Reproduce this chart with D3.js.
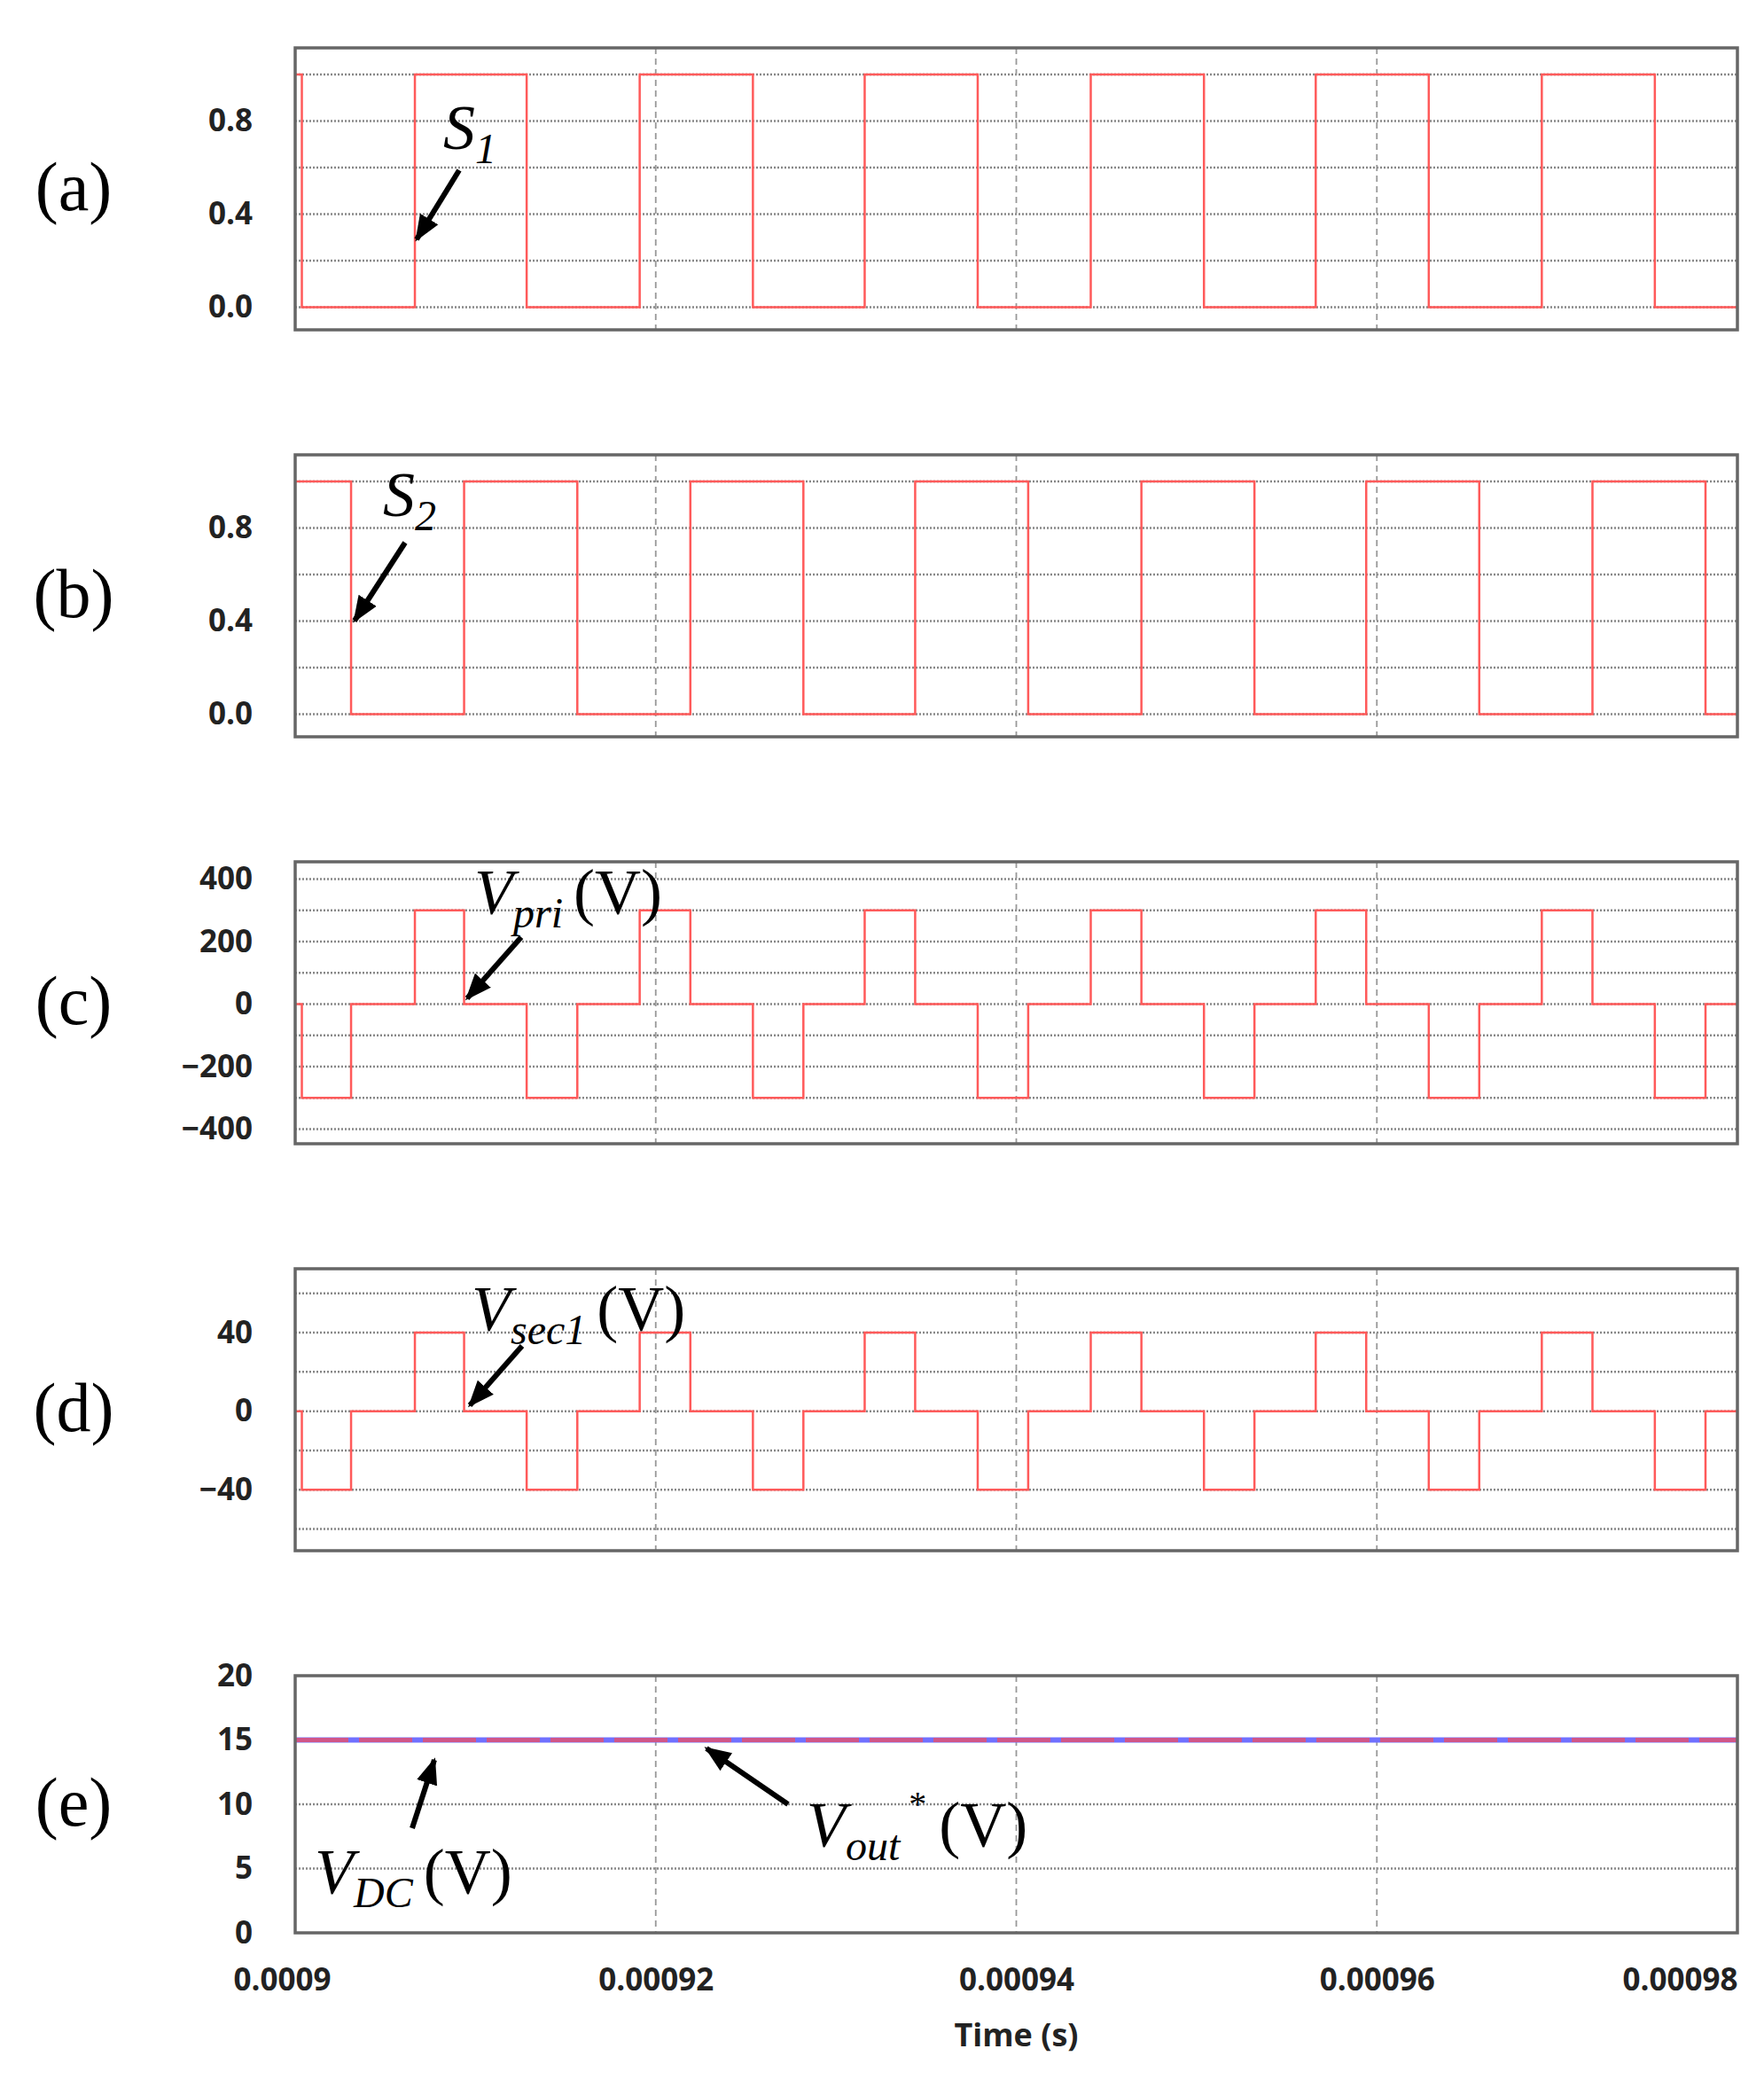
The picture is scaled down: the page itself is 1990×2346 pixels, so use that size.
<!DOCTYPE html><html><head><meta charset="utf-8">
<script src="https://cdn.jsdelivr.net/npm/d3@7"></script>
<style>body{margin:0;background:#fff}</style></head><body>
<svg id="c" width="1990" height="2346"></svg>
<script>
const s1Times=[0.0009,0.00090037,0.00090664,0.00091284,0.00091911,0.00092539,0.00093159,0.00093786,0.00094413,0.00095041,0.00095661,0.00096288,0.00096915,0.00097542,0.00098];
const s1Vals =[1,0,1,0,1,0,1,0,1,0,1,0,1,0,0];
const s2Times=[0.0009,0.0009031,0.00090937,0.00091565,0.00092192,0.00092819,0.00093439,0.00094066,0.00094694,0.00095321,0.00095941,0.00096568,0.00097196,0.00097823,0.00098];
const s2Vals =[1,0,1,0,1,0,1,0,1,0,1,0,1,0,0];
const vTimes=[0.0009,0.00090037,0.0009031,0.00090664,0.00090937,0.00091284,0.00091565,0.00091911,0.00092192,0.00092539,0.00092819,0.00093159,0.00093439,0.00093786,0.00094066,0.00094413,0.00094694,0.00095041,0.00095321,0.00095661,0.00095941,0.00096288,0.00096568,0.00096915,0.00097196,0.00097542,0.00097823,0.00098];
const vpriVals=[0,-300,0,300,0,-300,0,300,0,-300,0,300,0,-300,0,300,0,-300,0,300,0,-300,0,300,0,-300,0,0];
const vsecVals=[0,-40,0,40,0,-40,0,40,0,-40,0,40,0,-40,0,40,0,-40,0,40,0,-40,0,40,0,-40,0,0];
const dcTimes=[0.0009,0.00098]; const vdcVals=[15,15]; const voutVals=[15,15];
const xTicks=[0.0009,0.00092,0.00094,0.00096,0.00098];
const xTickLabels=["0.0009","0.00092","0.00094","0.00096","0.00098"];

const svg=d3.select("#c");
const L=333,R=1960;
const x=d3.scaleLinear().domain([0.0009,0.00098]).range([L,R]);
const panels=[
 {lab:"(a)",top:54,bot:372,dom:[-0.097,1.114],ticks:[0,0.4,0.8],grid:[0,0.2,0.4,0.6,0.8,1.0],series:[[s1Times,s1Vals,"#ff5a5a"]]},
 {lab:"(b)",top:513,bot:831,dom:[-0.097,1.114],ticks:[0,0.4,0.8],grid:[0,0.2,0.4,0.6,0.8,1.0],series:[[s2Times,s2Vals,"#ff5a5a"]]},
 {lab:"(c)",top:972,bot:1290,dom:[-447,455],ticks:[-400,-200,0,200,400],grid:[-400,-300,-200,-100,0,100,200,300,400],series:[[vTimes,vpriVals,"#ff5a5a"]]},
 {lab:"(d)",top:1431,bot:1749,dom:[-71,72.5],ticks:[-40,0,40],grid:[-60,-40,-20,0,20,40,60],series:[[vTimes,vsecVals,"#ff5a5a"]]},
 {lab:"(e)",top:1890,bot:2180,dom:[0,20],ticks:[0,5,10,15,20],grid:[5,10,15],series:[[dcTimes,vdcVals,"#7070ff"],[dcTimes,voutVals,"#e8506a",true]]}
];
panels.forEach(p=>{
 const y=d3.scaleLinear().domain(p.dom).range([p.bot,p.top]);
 const g=svg.append("g");
 g.selectAll(".hg").data(p.grid).join("line").attr("x1",L).attr("x2",R).attr("y1",d=>y(d)).attr("y2",d=>y(d))
  .attr("stroke","#888").attr("stroke-width",2.5).attr("stroke-dasharray","2,2");
 g.selectAll(".vg").data(xTicks.slice(1,4)).join("line").attr("x1",d=>x(d)).attr("x2",d=>x(d)).attr("y1",p.top).attr("y2",p.bot)
  .attr("stroke","#999").attr("stroke-width",1.8).attr("stroke-dasharray","7,5");
 const line=d3.line().x(d=>x(d[0])).y(d=>y(d[1])).curve(d3.curveStepAfter);
 p.series.forEach(([t,v,c,dash])=>{
  const pts=t.map((tt,i)=>[tt,v[i]]);
  g.append("path").datum(pts).attr("d",line).attr("fill","none").attr("stroke",c)
   .attr("stroke-width",dash?5:(p.lab==="(e)"?6:2.5)).attr("stroke-dasharray",dash?"60,12":null).attr("opacity",dash?0.8:1);
 });
 g.append("rect").attr("x",L).attr("y",p.top).attr("width",R-L).attr("height",p.bot-p.top)
  .attr("fill","none").attr("stroke","#666").attr("stroke-width",3.5);
 const ax=d3.axisLeft(y).tickValues(p.ticks).tickSize(0).tickPadding(48);
 const a=g.append("g").attr("transform",`translate(${L},0)`).call(ax);
 a.select(".domain").remove();
 a.selectAll("text").attr("font-family","Open Sans, sans-serif").attr("font-weight","bold").attr("font-size",35).attr("fill","#222");
 svg.append("text").attr("x",83).attr("y",(p.top+p.bot)/2+24).attr("text-anchor","middle")
  .attr("font-family","Liberation Serif, serif").attr("font-size",78).text(p.lab);
});
const xa=svg.append("g").attr("transform","translate(0,2180)").call(d3.axisBottom(x).tickValues(xTicks).tickFormat((d,i)=>xTickLabels[i]).tickSize(0).tickPadding(40));
xa.select(".domain").remove();
xa.selectAll("text").attr("font-family","Open Sans, sans-serif").attr("font-weight","bold").attr("font-size",35).attr("fill","#222");
xa.selectAll("text").filter((d,i)=>i===0).attr("text-anchor","start").attr("dx",-70);
xa.selectAll("text").filter((d,i)=>i===4).attr("text-anchor","end");
svg.append("text").attr("x",x(0.00094)).attr("y",2308).attr("text-anchor","middle").attr("font-family","Open Sans, sans-serif")
 .attr("font-weight","bold").attr("font-size",36).attr("fill","#222").text("Time (s)");
const defs=svg.append("defs");
defs.append("marker").attr("id","ah").attr("viewBox","0 0 10 10").attr("refX",9).attr("refY",5).attr("markerWidth",5).attr("markerHeight",5).attr("orient","auto")
 .append("path").attr("d","M0,1 L10,5 L0,9 Z").attr("fill","#000");
function arrow(x1,y1,x2,y2){svg.append("line").attr("x1",x1).attr("y1",y1).attr("x2",x2).attr("y2",y2).attr("stroke","#000").attr("stroke-width",6).attr("marker-end","url(#ah)");}
function label(px,py,main,sub,rest,sup){
 const t=svg.append("text").attr("x",px).attr("y",py).attr("font-family","Liberation Serif, serif").attr("font-size",72);
 t.append("tspan").attr("font-style","italic").text(main);
 if(sub) t.append("tspan").attr("font-style","italic").attr("font-size",48).attr("dy",16).text(sub);
 if(sup) t.append("tspan").attr("font-size",40).attr("dy",-50).attr("dx",10).text(sup);
 if(rest) t.append("tspan").attr("dy",sup?34:-16).attr("dx",sup?14:12).text(rest);
}
label(500,168,"S","1");arrow(518,192,470,270);
label(432,582,"S","2");arrow(457,612,400,700);
label(535,1030,"V","pri","(V)");arrow(588,1057,527,1126);
label(532,1500,"V","sec1","(V)");arrow(589,1518,530,1585);
label(355,2135,"V","DC","(V)");arrow(465,2062,490,1985);
label(910,2082,"V","out","(V)","*");arrow(889,2035,797,1972);
</script></body></html>
